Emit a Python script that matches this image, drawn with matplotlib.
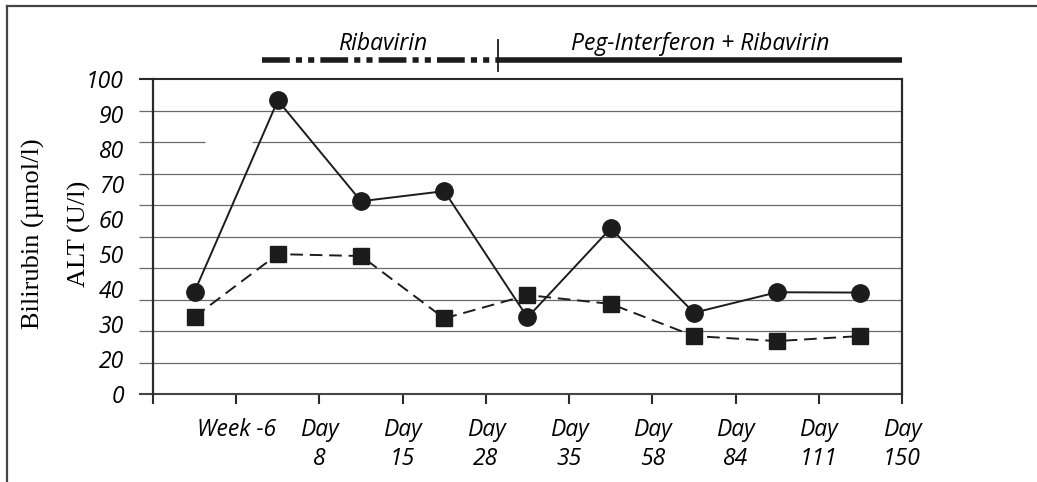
import matplotlib
matplotlib.use("Agg")
import matplotlib.pyplot as plt
from matplotlib.lines import Line2D
import numpy as np

# ---- data ----
x_labels = ["Week -6", "Day\n8", "Day\n15", "Day\n28", "Day\n35", "Day\n58", "Day\n84", "Day\n111", "Day\n150"]
bilirubin = [32.5, 93.2, 61.2, 64.4, 24.3, 52.6, 25.8, 32.3, 32.2]   # circles, solid
alt_vals = [24.5, 44.4, 43.8, 24.0, 31.4, 28.6, 18.4, 16.8, 18.4]     # squares, dashed
y_tick_labels = ["0", "20", "30", "40", "50", "60", "70", "80", "90", "100"]
grid_levels = [10, 20, 30, 40, 50, 60, 70, 80, 90]
ribavirin_span = (1.31, 4.15)
peg_span = (4.15, 9.0)

W, H = 1037, 482
fig = plt.figure(figsize=(W / 100, H / 100), dpi=100)
ax = fig.add_axes([153 / W, 1 - 394 / H, (902 - 153) / W, (394 - 79) / H])

FONT = "Open Sans"
FS = 16.5
ink = "#1c1c1c"

xs = np.arange(len(bilirubin)) + 0.5
ax.set_xlim(0, 9)
ax.set_ylim(0, 100)

# grid lines (drawn manually, extending a bit left of the axis)
ext = 14 / 83.2
for g in grid_levels:
    if g == 80:
        ax.hlines(g, -ext, 0.625, color="#6a6a6a", lw=0.9, clip_on=False, zorder=1)
        ax.hlines(g, 1.19, 9, color="#6a6a6a", lw=0.9, clip_on=False, zorder=1)
    else:
        ax.hlines(g, -ext, 9, color="#6a6a6a", lw=0.9, clip_on=False, zorder=1)
ax.hlines(0, -ext, 9, color="#444444", lw=1.5, clip_on=False, zorder=2)
ax.hlines(100, -ext, 9, color="#2a2a2a", lw=1.5, clip_on=False, zorder=2)

ax.plot(xs, bilirubin, color=ink, lw=1.4, marker="o", ms=12.5, mfc=ink, mec=ink, zorder=4, clip_on=False)
ax.plot(xs, alt_vals, color=ink, lw=1.4, ls=(0, (6.5, 3.5)), marker="s", ms=11.5, mfc=ink, mec=ink, zorder=4, clip_on=False)

for s in ["top", "bottom"]:
    ax.spines[s].set_visible(False)
for s in ["left", "right"]:
    ax.spines[s].set_color("#2a2a2a")
    ax.spines[s].set_linewidth(1.6)

# x ticks
ax.set_xticks(np.arange(0, 10))
ax.set_xticklabels([""] + x_labels, fontfamily=FONT, fontstyle="italic", fontsize=FS, linespacing=1.25)
ax.tick_params(axis="x", length=7.5, width=1.5, color="#2a2a2a", pad=10)

# y tick labels (evenly spaced text labels, independent of the grid)
ax.set_yticks(np.linspace(0, 100, len(y_tick_labels)))
ax.set_yticklabels(y_tick_labels, fontfamily=FONT, fontstyle="italic", fontsize=FS)
ax.tick_params(axis="y", length=0, pad=21)

# y label (two lines)
fig.text(33 / W, 1 - 234 / H, "Bilirubin (µmol/l)", rotation=90, ha="center", va="center",
         fontfamily="Liberation Serif", fontsize=19)
fig.text(79 / W, 1 - 234 / H, "ALT (U/l)", rotation=90, ha="center", va="center",
         fontfamily="Liberation Serif", fontsize=19)

# treatment bars above the plot
ybar = 106
ax.plot(ribavirin_span, [ybar, ybar], color="#1c1c1c", lw=4, ls=(0, (5.0, 1.1, 1.1, 1.1, 1.1, 1.1)),
        solid_capstyle="butt", dash_capstyle="butt", clip_on=False)
ax.plot(peg_span, [ybar, ybar], color="#1c1c1c", lw=4, solid_capstyle="butt", clip_on=False)
ax.plot([peg_span[0], peg_span[0]], [102.5, 112.5], color="#1c1c1c", lw=1.3, clip_on=False)
ax.text(2.76, 109.2, "Ribavirin", ha="center", va="baseline", fontfamily=FONT, fontstyle="italic", fontsize=FS)
ax.text(6.57, 109.2, "Peg-Interferon + Ribavirin", ha="center", va="baseline", fontfamily=FONT,
        fontstyle="italic", fontsize=FS)

# outer frame
fig.add_artist(Line2D([7 / W, 7 / W], [0, 1 - 6 / H], color="#444444", lw=1.6, transform=fig.transFigure))
fig.add_artist(Line2D([7 / W, 1], [1 - 6 / H, 1 - 6 / H], color="#444444", lw=1.6, transform=fig.transFigure))

fig.savefig("out.png", dpi=100)
